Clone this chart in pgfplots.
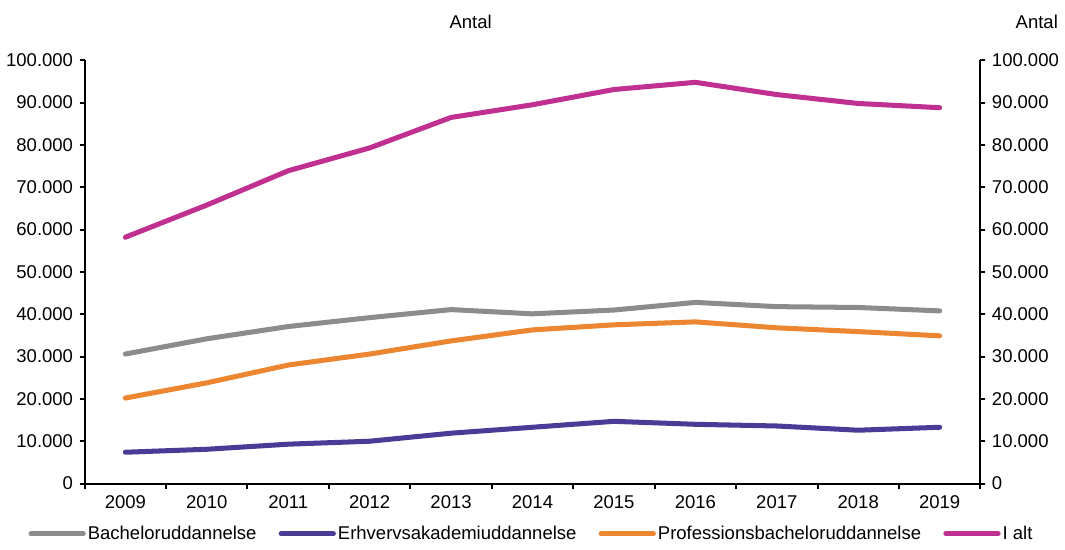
\documentclass[border=0pt]{standalone}
\usepackage{pgfplots}
\pgfplotsset{compat=1.18}
\usepackage{fontspec}
\setmainfont{Liberation Sans}
\definecolor{bachcol}{RGB}{140,140,140}
\definecolor{erhvcol}{RGB}{75,58,150}
\definecolor{profcol}{RGB}{236,134,48}
\definecolor{altcol}{RGB}{192,48,144}

\begin{document}
\fontsize{9.2}{11}\selectfont
\begin{tikzpicture}
\pgfplotsset{
  common/.style={
    scale only axis, width=445.5pt, height=210.5pt,
    xmin=-0.5, xmax=10.5, ymin=0, ymax=100000,
    scaled y ticks=false,
    ytick={0,10000,20000,30000,40000,50000,60000,70000,80000,90000,100000},
    yticklabels={0,10.000,20.000,30.000,40.000,50.000,60.000,70.000,80.000,90.000,100.000},
    tick align=outside, major tick length=2.5pt, minor tick length=2.5pt,
    every tick/.style={black, line width=1pt},
    axis line style={black, line width=1pt},
    tick label style={font=\fontsize{9.2}{11}\selectfont},
  }
}
\begin{axis}[
  common,
  axis x line*=bottom, axis y line*=left,
  clip=false,
  xtick={0,1,...,10},
  xticklabels={2009,2010,2011,2012,2013,2014,2015,2016,2017,2018,2019},
  minor xtick={-0.5,0.5,...,10.5},
  major x tick style={draw=none},
  legend style={at={(0.5,-0.1185)}, anchor=center, draw=none, fill=none,
    legend columns=4, font=\fontsize{9.2}{11}\selectfont,
    /tikz/every odd column/.append style={column sep=-1pt},
    /tikz/every even column/.append style={column sep=9pt}},
  legend image code/.code={\draw[#1, line width=2.5pt] (0pt,0pt) -- (26pt,0pt);},
  every axis plot/.append style={line width=2.5pt, line cap=round, line join=round},
]
\addplot[bachcol] coordinates {(0,30600)(1,34200)(2,37100)(3,39200)(4,41100)(5,40100)(6,41000)(7,42800)(8,41800)(9,41600)(10,40800)};
\addlegendentry{Bacheloruddannelse}
\addplot[erhvcol] coordinates {(0,7400)(1,8100)(2,9300)(3,10000)(4,11900)(5,13300)(6,14700)(7,14000)(8,13600)(9,12600)(10,13300)};
\addlegendentry{Erhvervsakademiuddannelse}
\addplot[profcol] coordinates {(0,20200)(1,23800)(2,28000)(3,30600)(4,33700)(5,36300)(6,37500)(7,38200)(8,36800)(9,35900)(10,34900)};
\addlegendentry{Professionsbacheloruddannelse}
\addplot[altcol] coordinates {(0,58200)(1,65800)(2,73900)(3,79300)(4,86500)(5,89500)(6,93100)(7,94800)(8,91900)(9,89800)(10,88800)};
\addlegendentry{I alt}
\node at (rel axis cs:0.431,1.09) {Antal};
\node at (rel axis cs:1.063,1.09) {Antal};
\path (rel axis cs:0.5,1.1425);
\end{axis}
\begin{axis}[
  common,
  axis x line=none, axis y line*=right,
  xtick=\empty,
]
\end{axis}
\end{tikzpicture}
\end{document}
